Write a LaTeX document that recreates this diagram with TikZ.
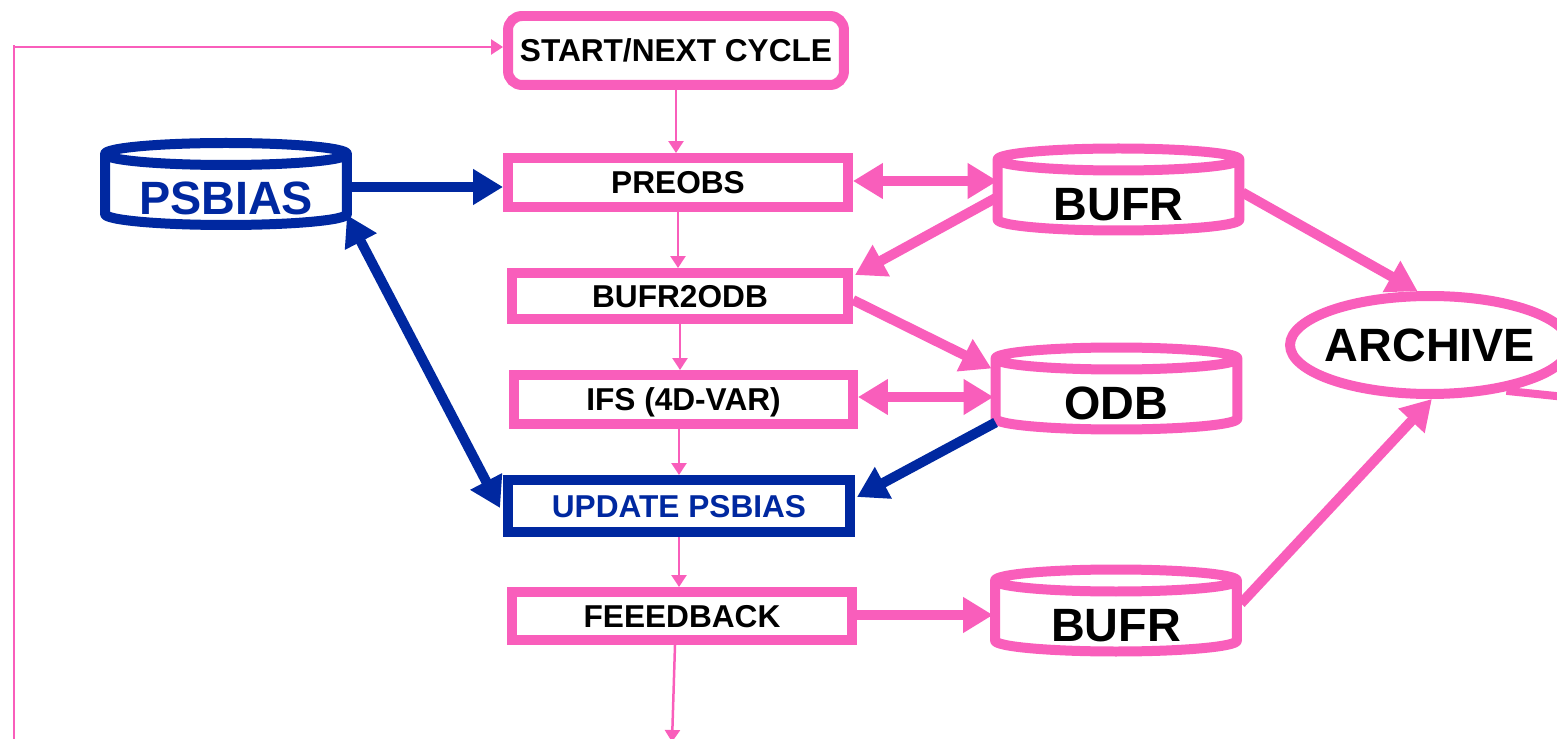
\documentclass[tikz,border=0pt]{standalone}
\usepackage{fontspec}
\setmainfont{Liberation Sans}
\usetikzlibrary{arrows.meta,calc,shapes.geometric}
\definecolor{pk}{RGB}{249,94,187}
\definecolor{bl}{RGB}{0,40,160}
\pgfdeclarelayer{bg}
\pgfsetlayers{bg,main}
\tikzset{
  box/.style={draw=pk,line width=0.2cm,fill=white,inner sep=0pt,
    font=\fontsize{18}{20}\selectfont\bfseries,text height=12.9pt,text depth=0pt},
  cylnode/.style={inner sep=0pt,outer sep=0pt,minimum width=4.84cm,minimum height=1.64cm,
    font=\fontsize{26.6}{30}\selectfont\bfseries,text height=35pt,text depth=0pt},
  cylline/.style={line width=0.2cm,line join=round,fill=white},
  fatpk/.style={draw=pk,line width=0.2cm,-{Triangle[length=0.6cm,width=0.68cm]}},
  fatpkb/.style={draw=pk,line width=0.2cm,{Triangle[length=0.6cm,width=0.68cm]}-{Triangle[length=0.6cm,width=0.68cm]}},
  fatbl/.style={draw=bl,line width=0.2cm,-{Triangle[length=0.6cm,width=0.68cm]}},
  fatblb/.style={draw=bl,line width=0.2cm,{Triangle[length=0.6cm,width=0.68cm]}-{Triangle[length=0.6cm,width=0.68cm]}},
  thinpk/.style={draw=pk,line width=0.05cm,-{Triangle[length=0.24cm,width=0.3cm]}},
}
\newcommand{\cylpath}[2]{%
  \draw[cylline,draw=#2] ($(#1.west)+(0,-30)$) -- ($(#1.west)+(0,30)$)
    arc[start angle=180,end angle=360,x radius=2.42cm,y radius=0.22cm]
    -- ($(#1.east)+(0,-30)$)
    arc[start angle=0,end angle=180,x radius=2.42cm,y radius=0.22cm]
    arc[start angle=180,end angle=360,x radius=2.42cm,y radius=0.22cm];}
\begin{document}
\begin{tikzpicture}[x=0.02cm,y=-0.02cm]
\useasboundingbox (0,0) rectangle (1557,739);
\clip (0,0) rectangle (1557,739);
% process boxes
\node[box,rounded corners=0.28cm,minimum width=6.72cm,minimum height=1.38cm] (start) at (676,50.5) {START/NEXT CYCLE};
\node[box,minimum width=6.8cm,minimum height=0.98cm] (preobs) at (678,182.5) {PREOBS};
\node[box,minimum width=6.72cm,minimum height=0.92cm] (b2o) at (680,296) {BUFR2ODB};
\node[box,minimum width=6.78cm,minimum height=0.98cm] (ifs) at (683.5,399.5) {IFS (4D-VAR)};
\node[box,draw=bl,text=bl,minimum width=6.84cm,minimum height=1.04cm] (upd) at (679,506) {UPDATE PSBIAS};
\node[box,minimum width=6.8cm,minimum height=0.96cm] (fb) at (682,616) {FEEEDBACK};
% cylinders
\node[cylnode,text=bl] (psbias) at (226,184) {PSBIAS};
\node[cylnode] (bufr1) at (1118.5,189.5) {BUFR};
\node[cylnode] (odb) at (1116.5,388.5) {ODB};
\node[cylnode] (bufr2) at (1116,610.5) {BUFR};
\begin{pgfonlayer}{bg}
\cylpath{psbias}{bl}
\cylpath{bufr1}{pk}
\cylpath{odb}{pk}
\cylpath{bufr2}{pk}
\end{pgfonlayer}
% archive
\node[draw=pk,line width=0.2cm,ellipse,minimum width=5.6cm,minimum height=1.96cm,inner sep=0pt,
  font=\fontsize{26.6}{30}\selectfont\bfseries,text height=19pt,text depth=0pt] (archive) at (1430,345) {\makebox[0pt]{ARCHIVE}};
% loop
\coordinate (loopB) at (14,745);
\coordinate (loopT) at (14,47);
\draw[pk,line width=0.06cm] (loopB) -- ($(loopT)+(0,-2)$);
\draw[thinpk] (loopT) -- (start.west |- loopT);
% main chain
\draw[thinpk] (start.south) -- (start.south |- preobs.north);
\draw[thinpk] (preobs.south) -- (preobs.south |- b2o.north);
\draw[thinpk] (b2o.south) -- (b2o.south |- ifs.north);
\draw[thinpk] (upd.north |- ifs.south) -- (upd.north);
\draw[thinpk] (upd.south) -- (upd.south |- fb.north);
\coordinate (fbout) at (672,742);
\draw[thinpk] ($(fb.south)+(-7,0)$) -- (fbout);
% blue
\draw[fatbl] ($(psbias.east)+(0,3)$) -- (preobs.west |- {$(psbias.east)+(0,3)$});
\draw[fatblb] ($(psbias.east)+(0,31)$) -- ($(upd.west)+(-3,2)$);
\draw[fatbl] ($(odb.west)+(0,34)$) -- ($(upd.east)+(2,-9)$);
% pink thick
\draw[fatpkb] ($(preobs.east)+(0,-1.5)$) -- ($(bufr1.west |- preobs.east)+(0,-1.5)$);
\draw[fatpk] ($(bufr1.west)+(0,7.5)$) -- ($(b2o.north east)+(2,7)$);
\draw[fatpk] ($(b2o.east)+(0,4)$) -- ($(odb.west)+(-4,-20)$);
\draw[fatpkb] ($(ifs.east)+(0,-2.5)$) -- ($(odb.west |- ifs.east)+(-2,-2.5)$);
\draw[fatpk] ($(fb.east)+(0,-1)$) -- ($(bufr2.west |- fb.east)+(-2,-1)$);
\draw[fatpk] ($(bufr1.east)+(3,3)$) -- (archive.103);
\draw[fatpk] ($(bufr2.east)+(4,-7)$) -- (archive.-88);
\coordinate (offR) at (1575,398);
\draw[pk,line width=0.16cm] (archive.-31) -- (offR);
\end{tikzpicture}
\end{document}
